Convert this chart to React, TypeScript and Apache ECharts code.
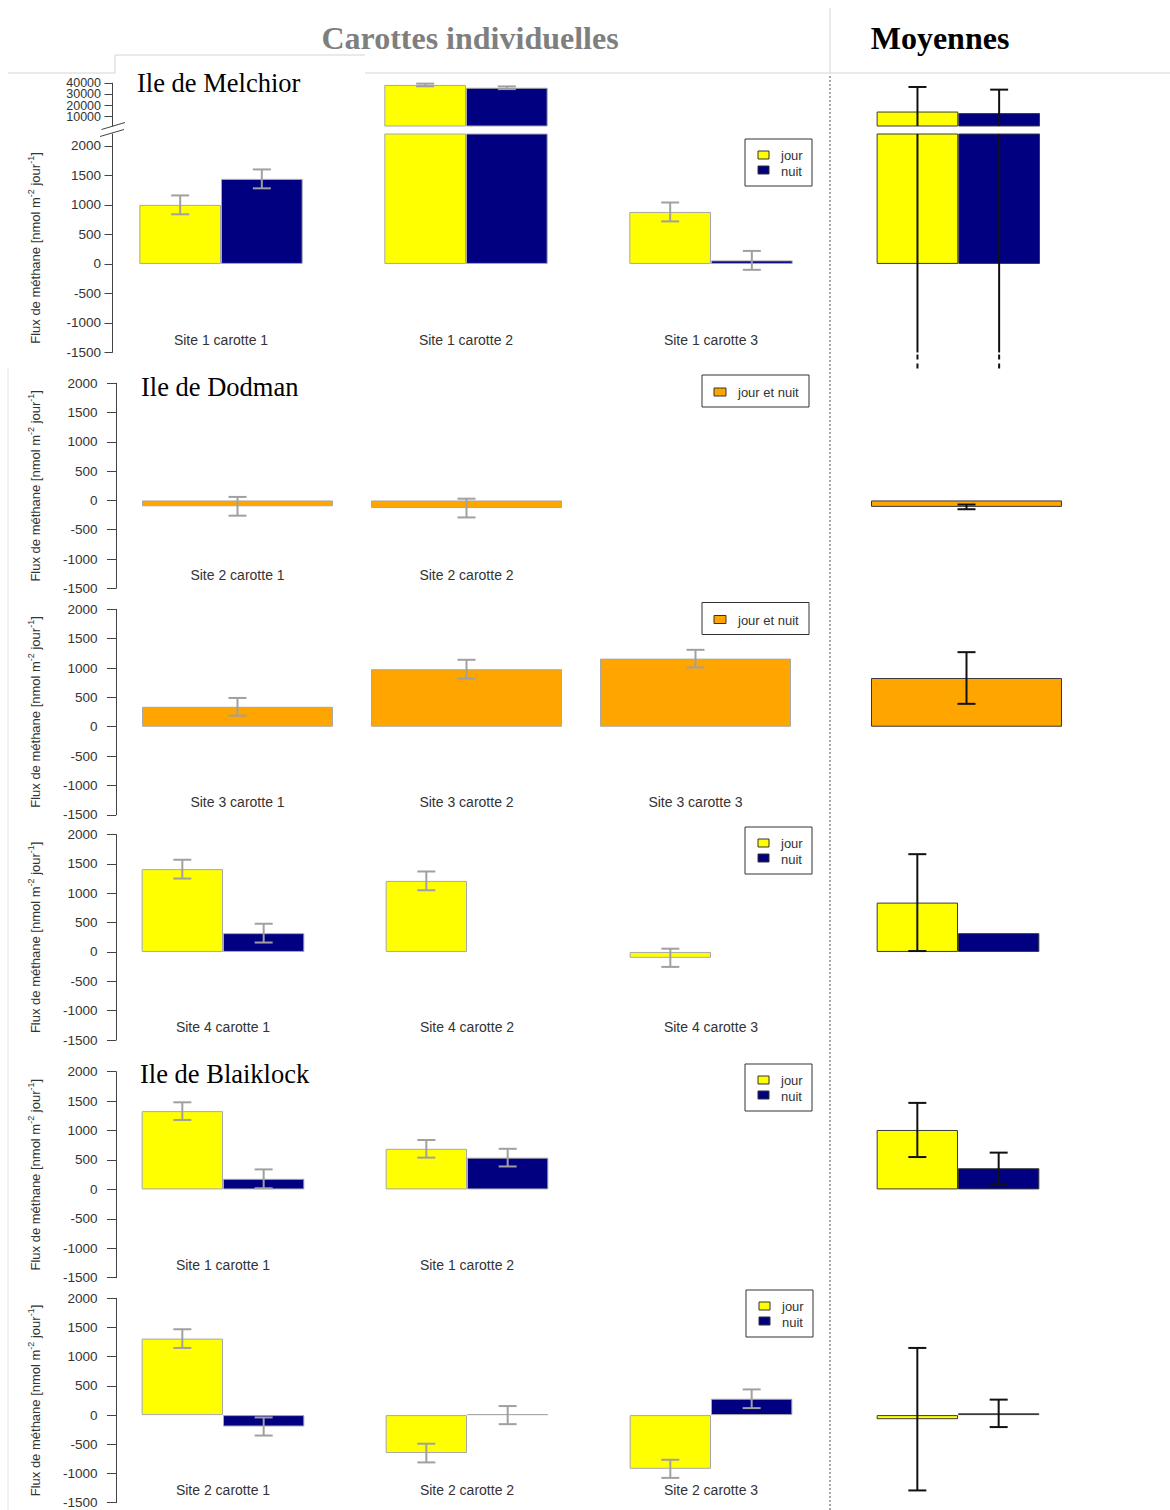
import React, { useEffect, useRef } from "react";
import * as echarts from "echarts";

const SANS = "'Liberation Sans', Arial, Helvetica, sans-serif";
const SERIF = "'Liberation Serif', 'Times New Roman', Times, serif";

const JOUR = "#ffff00";
const NUIT = "#000080";
const JOUR_ET_NUIT = "#ffa500";

// Flux de méthane, nmol m-2 jour-1 (moyenne ± écart)

// Ile de Melchior, site 1
const melchiorCores = ["Site 1 carotte 1", "Site 1 carotte 2", "Site 1 carotte 3"];
const melchiorJour = [1000, 38500, 880];
const melchiorJourErr = [160, 1200, 160];
const melchiorNuit = [1440, 36000, 60];
const melchiorNuitErr = [160, 1200, 160];
const melchiorMeanJour = [14600];
const melchiorMeanJourErr = [22100];
const melchiorMeanNuit = [13200];
const melchiorMeanNuitErr = [21100];

// Ile de Dodman, site 2 (jour et nuit)
const dodman2Cores = ["Site 2 carotte 1", "Site 2 carotte 2", ""];
const dodman2Flux = [-100, -130, null];
const dodman2Err = [160, 160, null];
const dodman2Mean = [-110];
const dodman2MeanErr = [40];

// Ile de Dodman, site 3 (jour et nuit)
const dodman3Cores = ["Site 3 carotte 1", "Site 3 carotte 2", "Site 3 carotte 3"];
const dodman3Flux = [340, 980, 1160];
const dodman3Err = [150, 160, 150];
const dodman3Mean = [830];
const dodman3MeanErr = [440];

// Ile de Dodman, site 4
const dodman4Cores = ["Site 4 carotte 1", "Site 4 carotte 2", "Site 4 carotte 3"];
const dodman4Jour = [1410, 1210, -100];
const dodman4JourErr = [160, 160, 155];
const dodman4Nuit = [320, null, null];
const dodman4NuitErr = [160, null, null];
const dodman4MeanJour = [840];
const dodman4MeanJourErr = [825];
const dodman4MeanNuit = [320];
const dodman4MeanNuitErr = [null];

// Ile de Blaiklock, site 1
const blaiklock1Cores = ["Site 1 carotte 1", "Site 1 carotte 2", ""];
const blaiklock1Jour = [1330, 690, null];
const blaiklock1JourErr = [150, 150, null];
const blaiklock1Nuit = [180, 540, null];
const blaiklock1NuitErr = [160, 150, null];
const blaiklock1MeanJour = [1010];
const blaiklock1MeanJourErr = [460];
const blaiklock1MeanNuit = [360];
const blaiklock1MeanNuitErr = [265];

// Ile de Blaiklock, site 2
const blaiklock2Cores = ["Site 2 carotte 1", "Site 2 carotte 2", "Site 2 carotte 3"];
const blaiklock2Jour = [1310, -650, -920];
const blaiklock2JourErr = [160, 160, 155];
const blaiklock2Nuit = [-195, 0, 280];
const blaiklock2NuitErr = [155, 155, 160];
const blaiklock2MeanJour = [-70];
const blaiklock2MeanJourErr = [1220];
const blaiklock2MeanNuit = [30];
const blaiklock2MeanNuitErr = [235];

const meanCategory = [""];
const fluxTicks = [-1500, -1000, -500, 0, 500, 1000, 1500, 2000];
// upper part of the broken axis: labels sit close together, so they are
// spread over two overlaid axes to keep every one of them visible
const highTicksA = [20000, 40000];
const highTicksB = [10000, 30000];

type Bar = { name: string; color: string; values: (number | null)[]; errs: (number | null)[] };
type Panel = {
  top: number;
  height: number;
  left: number;
  width: number;
  min: number;
  max: number;
  cats: string[];
  showCats: boolean;
  mode: "pair" | "single";
  bars: Bar[];
  mean: boolean;
  tickGroups?: number[][];
  axisX?: number;
  tickLen?: number;
  labelMargin?: number;
  labelSize?: number;
  extendBelow?: boolean;
};

function errorRenderer(offsetFrac: number, min: number, max: number, color: string, extendBelow: boolean) {
  return (_params: any, api: any) => {
    const i = api.value(0);
    const v = api.value(1);
    const e = api.value(2);
    const hi = v + e;
    const lo = v - e;
    if (hi <= min || lo >= max) return null;
    const band = api.size([1, 0])[0];
    const cx = api.coord([i, v])[0] + offsetFrac * band;
    const yTop = api.coord([i, Math.min(hi, max)])[1];
    const yBot = api.coord([i, Math.max(lo, min)])[1];
    const cap = 9;
    const style = { stroke: color, lineWidth: 2 };
    const children: any[] = [
      { type: "line", shape: { x1: cx, y1: yTop, x2: cx, y2: yBot }, style },
    ];
    if (hi <= max) children.push({ type: "line", shape: { x1: cx - cap, y1: yTop, x2: cx + cap, y2: yTop }, style });
    if (lo >= min) {
      children.push({ type: "line", shape: { x1: cx - cap, y1: yBot, x2: cx + cap, y2: yBot }, style });
    } else if (extendBelow) {
      children.push({
        type: "line",
        shape: { x1: cx, y1: yBot + 2, x2: cx, y2: yBot + 17 },
        style: { stroke: color, lineWidth: 2, lineDash: [5, 4] },
      });
    }
    return { type: "group", children };
  };
}

function pairLegend(x: number, y: number) {
  const txt = (text: string, ty: number) => ({
    type: "text",
    x: 36,
    y: ty,
    style: { text, fontFamily: SANS, fontSize: 13, fill: "#333", align: "left", verticalAlign: "middle" },
  });
  return {
    type: "group",
    x,
    y,
    children: [
      { type: "rect", shape: { x: 0, y: 0, width: 67, height: 47 }, style: { fill: "#fff", stroke: "#333", lineWidth: 1 } },
      { type: "rect", shape: { x: 13, y: 12, width: 11, height: 8 }, style: { fill: JOUR, stroke: "#333", lineWidth: 1 } },
      txt("jour", 16.5),
      { type: "rect", shape: { x: 13, y: 27, width: 11, height: 8 }, style: { fill: NUIT, stroke: "#333", lineWidth: 1 } },
      txt("nuit", 32),
    ],
  };
}

function singleLegend(x: number, y: number) {
  return {
    type: "group",
    x,
    y,
    children: [
      { type: "rect", shape: { x: 0, y: 0, width: 107, height: 32 }, style: { fill: "#fff", stroke: "#333", lineWidth: 1 } },
      { type: "rect", shape: { x: 12, y: 13, width: 12, height: 8 }, style: { fill: JOUR_ET_NUIT, stroke: "#333", lineWidth: 1 } },
      {
        type: "text",
        x: 36,
        y: 17.5,
        style: { text: "jour et nuit", fontFamily: SANS, fontSize: 13, fill: "#333", align: "left", verticalAlign: "middle" },
      },
    ],
  };
}

function yTitle(cy: number) {
  return {
    type: "text",
    x: 35,
    y: cy,
    rotation: Math.PI / 2,
    style: {
      text: "{b|Flux de méthane [nmol m}{s|-2}{b| jour}{s|-1}{b|]}",
      align: "center",
      verticalAlign: "middle",
      rich: {
        b: { fontFamily: SANS, fontSize: 13, fill: "#333", lineHeight: 18 },
        s: { fontFamily: SANS, fontSize: 9, fill: "#333", lineHeight: 9, verticalAlign: "top" },
      },
    },
  };
}

function islandTitle(text: string, x: number, y: number) {
  return {
    type: "text",
    x,
    y,
    style: { text, fontFamily: SERIF, fontSize: 26.5, fill: "#000", align: "left", verticalAlign: "middle" },
  };
}

function buildOption() {
  const grid: any[] = [];
  const xAxis: any[] = [];
  const yAxis: any[] = [];
  const series: any[] = [];

  const panel = (p: Panel) => {
    const gi = grid.length;
    grid.push({ left: p.left, top: p.top, width: p.width, height: p.height, containLabel: false, outerBoundsMode: "none" });
    const xi = xAxis.length;
    xAxis.push({
      gridIndex: gi,
      type: "category",
      data: p.cats,
      axisLine: { show: false, onZero: false },
      axisTick: { show: false },
      splitLine: { show: false },
      axisLabel: { show: p.showCats, interval: 0, margin: -20, fontSize: 14, color: "#333", fontFamily: SANS },
    });
    const yi = yAxis.length;
    if (p.tickGroups) {
      p.tickGroups.forEach((ticks) => {
        yAxis.push({
          gridIndex: gi,
          type: "value",
          min: p.min,
          max: p.max,
          position: "left",
          offset: p.left - (p.axisX as number),
          axisLine: { show: true, onZero: false, lineStyle: { color: "#444", width: 1 } },
          axisTick: { show: true, length: p.tickLen, customValues: ticks, lineStyle: { color: "#444", width: 1 } },
          axisLabel: {
            show: true,
            customValues: ticks,
            formatter: (v: number) => String(v),
            hideOverlap: false,
            margin: p.labelMargin,
            fontSize: p.labelSize,
            color: "#333",
            fontFamily: SANS,
          },
          splitLine: { show: false },
        });
      });
    } else {
      yAxis.push({ gridIndex: gi, type: "value", min: p.min, max: p.max, show: false, splitLine: { show: false } });
    }
    const gap = p.mode === "pair" ? 1 / 3 : 0.166;
    const barFrac = p.mode === "pair" ? (1 - gap) / 2 : 1 - gap;
    const offsets = p.mode === "pair" ? [-barFrac / 2, barFrac / 2] : [0];
    p.bars.forEach((b, k) => {
      series.push({
        type: "bar",
        name: b.name,
        xAxisIndex: xi,
        yAxisIndex: yi,
        data: b.values,
        barGap: "0%",
        barCategoryGap: `${(gap * 100).toFixed(2)}%`,
        barMinHeight: 1,
        clip: true,
        silent: true,
        z: 2,
        itemStyle: { color: b.color, borderColor: p.mean ? "#3a3a3a" : "#a8a8a8", borderWidth: 1 },
      });
      const errData = b.values
        .map((v, i) => [i, v, b.errs[i]])
        .filter((d) => d[1] !== null && d[2] !== null);
      if (errData.length) {
        series.push({
          type: "custom",
          xAxisIndex: xi,
          yAxisIndex: yi,
          data: errData,
          clip: false,
          silent: true,
          z: 5,
          renderItem: errorRenderer(offsets[k], p.min, p.max, p.mean ? "#111" : "#a0a0a0", !!p.extendBelow),
        });
      }
    });
  };

  const leftPair = { left: 101, width: 732, axisX: 116, tickLen: 9, labelMargin: 18.5, labelSize: 13.5, tickGroups: [fluxTicks], min: -1500, max: 2000, showCats: true, mode: "pair" as const, mean: false };
  const leftSingle = { left: 123, width: 687, axisX: 116, tickLen: 9, labelMargin: 18.5, labelSize: 13.5, tickGroups: [fluxTicks], min: -1500, max: 2000, showCats: true, mode: "single" as const, mean: false };
  const rightPair = { left: 836, width: 244, min: -1500, max: 2000, cats: meanCategory, showCats: false, mode: "pair" as const, mean: true };
  const rightSingle = { left: 852, width: 229, min: -1500, max: 2000, cats: meanCategory, showCats: false, mode: "single" as const, mean: true };

  // Ile de Melchior: broken axis, upper and lower parts
  const melchiorBars: Bar[] = [
    { name: "jour", color: JOUR, values: melchiorJour, errs: melchiorJourErr },
    { name: "nuit", color: NUIT, values: melchiorNuit, errs: melchiorNuitErr },
  ];
  const melchiorMeanBars: Bar[] = [
    { name: "jour", color: JOUR, values: melchiorMeanJour, errs: melchiorMeanJourErr },
    { name: "nuit", color: NUIT, values: melchiorMeanNuit, errs: melchiorMeanNuitErr },
  ];
  const melchiorX = { left: 98.5, width: 735, axisX: 112, tickLen: 7.5, labelMargin: 11, mode: "pair" as const, mean: false, cats: melchiorCores };
  panel({ ...melchiorX, top: 83.3, height: 42.7, min: 1600, max: 40000, tickGroups: [highTicksA, highTicksB], labelSize: 12.5, showCats: false, bars: melchiorBars });
  panel({ ...melchiorX, top: 134, height: 218.5, min: -1500, max: 2200, tickGroups: [fluxTicks], labelSize: 13.5, showCats: true, bars: melchiorBars });
  panel({ ...rightPair, left: 835.8, width: 245, top: 83.3, height: 42.7, min: 1600, max: 40000, bars: melchiorMeanBars });
  panel({ ...rightPair, left: 835.8, width: 245, top: 134, height: 218.5, min: -1500, max: 2200, bars: melchiorMeanBars, extendBelow: true });

  // Ile de Dodman, site 2
  panel({ ...leftSingle, top: 383.3, height: 205, cats: dodman2Cores, bars: [{ name: "jour et nuit", color: JOUR_ET_NUIT, values: dodman2Flux, errs: dodman2Err }] });
  panel({ ...rightSingle, top: 383.3, height: 205, bars: [{ name: "jour et nuit", color: JOUR_ET_NUIT, values: dodman2Mean, errs: dodman2MeanErr }] });

  // Ile de Dodman, site 3
  panel({ ...leftSingle, top: 609.3, height: 205.5, cats: dodman3Cores, bars: [{ name: "jour et nuit", color: JOUR_ET_NUIT, values: dodman3Flux, errs: dodman3Err }] });
  panel({ ...rightSingle, top: 609.3, height: 205.5, bars: [{ name: "jour et nuit", color: JOUR_ET_NUIT, values: dodman3Mean, errs: dodman3MeanErr }] });

  // Ile de Dodman, site 4
  panel({
    ...leftPair, top: 834.5, height: 205.5, cats: dodman4Cores,
    bars: [
      { name: "jour", color: JOUR, values: dodman4Jour, errs: dodman4JourErr },
      { name: "nuit", color: NUIT, values: dodman4Nuit, errs: dodman4NuitErr },
    ],
  });
  panel({
    ...rightPair, top: 834.5, height: 205.5,
    bars: [
      { name: "jour", color: JOUR, values: dodman4MeanJour, errs: dodman4MeanJourErr },
      { name: "nuit", color: NUIT, values: dodman4MeanNuit, errs: dodman4MeanNuitErr },
    ],
  });

  // Ile de Blaiklock, site 1
  panel({
    ...leftPair, top: 1071.7, height: 206, cats: blaiklock1Cores,
    bars: [
      { name: "jour", color: JOUR, values: blaiklock1Jour, errs: blaiklock1JourErr },
      { name: "nuit", color: NUIT, values: blaiklock1Nuit, errs: blaiklock1NuitErr },
    ],
  });
  panel({
    ...rightPair, top: 1071.7, height: 206,
    bars: [
      { name: "jour", color: JOUR, values: blaiklock1MeanJour, errs: blaiklock1MeanJourErr },
      { name: "nuit", color: NUIT, values: blaiklock1MeanNuit, errs: blaiklock1MeanNuitErr },
    ],
  });

  // Ile de Blaiklock, site 2
  panel({
    ...leftPair, top: 1298.3, height: 204.4, cats: blaiklock2Cores,
    bars: [
      { name: "jour", color: JOUR, values: blaiklock2Jour, errs: blaiklock2JourErr },
      { name: "nuit", color: NUIT, values: blaiklock2Nuit, errs: blaiklock2NuitErr },
    ],
  });
  panel({
    ...rightPair, top: 1298.3, height: 204.4,
    bars: [
      { name: "jour", color: JOUR, values: blaiklock2MeanJour, errs: blaiklock2MeanJourErr },
      { name: "nuit", color: NUIT, values: blaiklock2MeanNuit, errs: blaiklock2MeanNuitErr },
    ],
  });

  const frame = { stroke: "#d4d4d4", lineWidth: 1 };
  const graphic: any[] = [
    // column headers
    {
      type: "text", x: 470, y: 38,
      style: { text: "Carottes individuelles", fontFamily: SERIF, fontSize: 32, fontWeight: "bold", fill: "#7f7f7f", align: "center", verticalAlign: "middle" },
    },
    {
      type: "text", x: 940, y: 38,
      style: { text: "Moyennes", fontFamily: SERIF, fontSize: 32, fontWeight: "bold", fill: "#000", align: "center", verticalAlign: "middle" },
    },
    // header frame
    { type: "line", shape: { x1: 8, y1: 73, x2: 115, y2: 73 }, style: frame },
    { type: "line", shape: { x1: 115, y1: 73, x2: 115, y2: 55 }, style: frame },
    { type: "line", shape: { x1: 115, y1: 55, x2: 365, y2: 55 }, style: frame },
    { type: "line", shape: { x1: 365, y1: 73, x2: 1170, y2: 73 }, style: frame },
    { type: "line", shape: { x1: 830, y1: 8, x2: 830, y2: 73 }, style: frame },
    { type: "line", shape: { x1: 8, y1: 368, x2: 8, y2: 1510 }, style: { stroke: "#e4e4e4", lineWidth: 1 } },
    // column separator
    { type: "line", shape: { x1: 830, y1: 76, x2: 830, y2: 1510 }, style: { stroke: "#a8a8a8", lineWidth: 2, lineDash: [2, 2] } },
    // axis break mark
    { type: "line", shape: { x1: 101.5, y1: 129.5, x2: 125, y2: 122.5 }, style: { stroke: "#444", lineWidth: 1 } },
    { type: "line", shape: { x1: 100, y1: 136.5, x2: 124, y2: 129.5 }, style: { stroke: "#444", lineWidth: 1 } },
    // island names
    islandTitle("Ile de Melchior", 137, 83),
    islandTitle("Ile de Dodman", 141, 387),
    islandTitle("Ile de Blaiklock", 140, 1074),
    // y axis titles
    yTitle(248),
    yTitle(485.8),
    yTitle(712),
    yTitle(937.3),
    yTitle(1174.7),
    yTitle(1400.5),
    // legends
    pairLegend(745, 139),
    singleLegend(702, 375),
    singleLegend(702, 602.5),
    pairLegend(745, 827),
    pairLegend(745, 1064),
    pairLegend(746, 1290),
  ];

  return {
    animation: false,
    backgroundColor: "#ffffff",
    textStyle: { fontFamily: SANS },
    grid,
    xAxis,
    yAxis,
    series,
    graphic,
  };
}

export default function App() {
  const ref = useRef<HTMLDivElement>(null);
  useEffect(() => {
    if (!ref.current) return;
    const chart = echarts.init(ref.current, null, { renderer: "svg", width: 1170, height: 1510 });
    chart.setOption(buildOption() as any);
    return () => chart.dispose();
  }, []);
  return (
    <div
      ref={ref}
      style={{ position: "fixed", left: 0, top: 0, width: 1170, height: 1510, background: "#ffffff" }}
    />
  );
}
